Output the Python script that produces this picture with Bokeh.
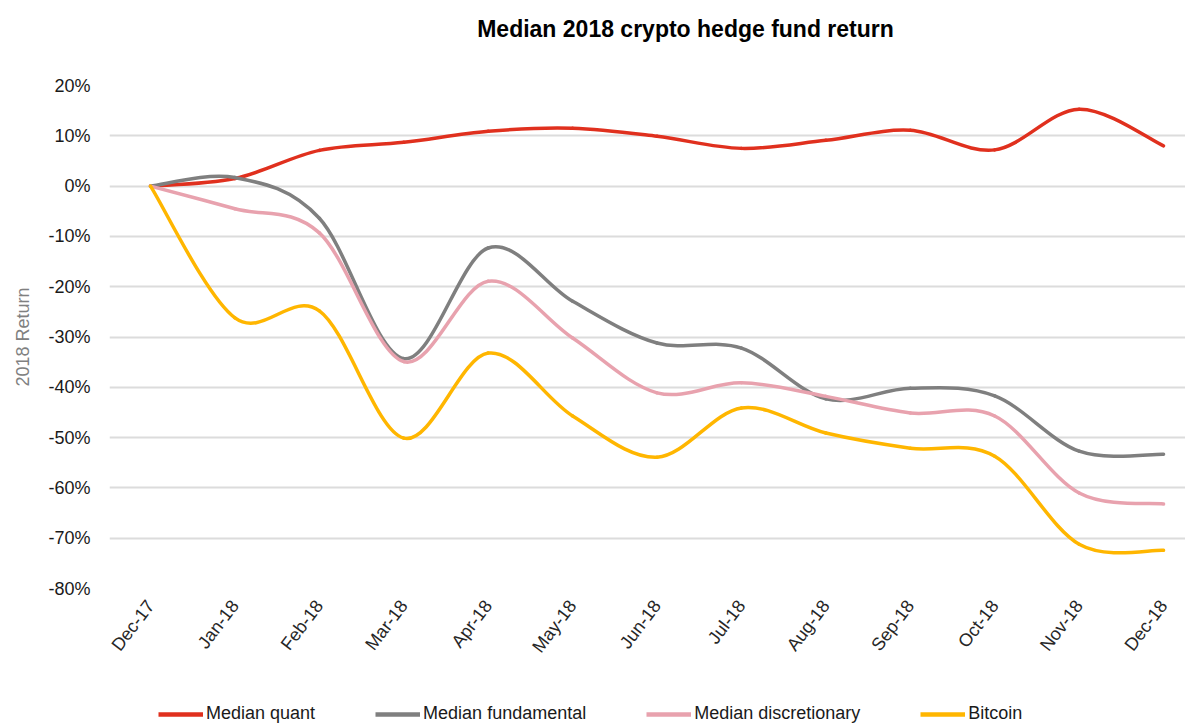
from bokeh.plotting import figure
from bokeh.layouts import column
from bokeh.models import (Range1d, FixedTicker, Legend, LegendItem, Label,
                          ColumnDataSource)
from bokeh.embed import file_html
from bokeh.resources import INLINE

# ---------------- data ----------------
months = ["Dec-17", "Jan-18", "Feb-18", "Mar-18", "Apr-18", "May-18", "Jun-18",
          "Jul-18", "Aug-18", "Sep-18", "Oct-18", "Nov-18", "Dec-18"]
median_quant = [0, 1.5, 7.1, 8.7, 10.9, 11.5, 9.9, 7.5, 9.1, 11.1, 7.2, 15.3, 8.0]
median_fundamental = [0, 1.7, -6.4, -34.3, -12.3, -22.9, -31.2, -32.2, -42.3, -40.2, -41.7, -52.7, -53.3]
median_discretionary = [0, -4.5, -9.3, -34.9, -18.9, -30.2, -41.1, -39.1, -41.8, -45.1, -45.7, -61.0, -63.2]
bitcoin = [0, -26.2, -24.8, -50.1, -33.2, -45.7, -53.9, -44.1, -49.1, -52.1, -53.7, -71.2, -72.4]
y_ticks = [-80, -70, -60, -50, -40, -30, -20, -10, 0, 10, 20]

series = [
    ("Median quant", median_quant, "#E0301E"),
    ("Median fundamental", median_fundamental, "#7F7F7F"),
    ("Median discretionary", median_discretionary, "#E8A2AE"),
    ("Bitcoin", bitcoin, "#FFB600"),
]

FONT = "Liberation Sans"
W = 1185

# ---------------- title strip ----------------
tf = figure(width=W, height=57, output_backend="svg", toolbar_location=None,
            x_axis_type=None, y_axis_type=None, min_border=0,
            x_range=Range1d(0, 1), y_range=Range1d(0, 1))
tf.outline_line_color = None
tf.border_fill_color = "white"
tf.add_layout(Label(x=576, y=29, x_units="screen", y_units="screen",
                    text="Median 2018 crypto hedge fund return",
                    text_font=FONT, text_font_size="23px",
                    text_font_style="bold", text_color="#000000",
                    text_align="center", text_baseline="middle"))

# ---------------- main figure ----------------
p = figure(width=W, height=647, output_backend="svg", toolbar_location=None,
           x_range=Range1d(-0.486, 12.26), y_range=Range1d(-80, 20),
           min_border_left=109, min_border_right=0, min_border_top=28,
           min_border_bottom=116)
p.outline_line_color = None
p.background_fill_color = "white"
p.border_fill_color = "white"

p.xaxis.ticker = FixedTicker(ticks=list(range(len(months))))
p.xaxis.major_label_overrides = {i: m for i, m in enumerate(months)}
p.xaxis.major_label_orientation = 0.92
p.xaxis.major_label_text_font = FONT
p.xaxis.major_label_text_font_size = "18px"
p.xaxis.major_label_text_color = "#262626"
p.xaxis.major_label_standoff = 8
p.xaxis.axis_line_color = None
p.xaxis.major_tick_line_color = None
p.xaxis.minor_tick_line_color = None

p.yaxis.ticker = FixedTicker(ticks=y_ticks)
p.yaxis.major_label_overrides = {t: f"{t}%" for t in y_ticks}
p.yaxis.major_label_text_font = FONT
p.yaxis.major_label_text_font_size = "18px"
p.yaxis.major_label_text_color = "#1a1a1a"
p.yaxis.major_label_standoff = 13
p.yaxis.axis_line_color = None
p.yaxis.major_tick_line_color = None
p.yaxis.minor_tick_line_color = None
p.yaxis.axis_label = "2018 Return"
p.yaxis.axis_label_text_font = FONT
p.yaxis.axis_label_text_font_size = "18px"
p.yaxis.axis_label_text_font_style = "normal"
p.yaxis.axis_label_text_color = "#808080"
p.yaxis.axis_label_standoff = 12

p.xgrid.grid_line_color = None
p.ygrid.grid_line_color = "#dcdcdc"
p.ygrid.grid_line_width = 2

# ---------------- legend strip ----------------
lf = figure(width=W, height=20, output_backend="svg", toolbar_location=None,
            x_axis_type=None, y_axis_type=None, min_border=0,
            x_range=Range1d(0, 1), y_range=Range1d(1000, 1001))
lf.outline_line_color = None
lf.border_fill_color = "white"

# ---------------- smooth curves (Catmull-Rom -> cubic Bezier) ----------------
items = []
for name, vals, color in series:
    n = len(vals)
    xs = list(range(n))
    x0, y0, x1, y1, cx0, cy0, cx1, cy1 = [], [], [], [], [], [], [], []
    for i in range(n - 1):
        im1 = max(i - 1, 0)
        ip2 = min(i + 2, n - 1)
        x0.append(xs[i]); y0.append(vals[i])
        x1.append(xs[i + 1]); y1.append(vals[i + 1])
        cx0.append(xs[i] + (xs[i + 1] - xs[im1]) / 6.0)
        cy0.append(vals[i] + (vals[i + 1] - vals[im1]) / 6.0)
        cx1.append(xs[i + 1] - (xs[ip2] - xs[i]) / 6.0)
        cy1.append(vals[i + 1] - (vals[ip2] - vals[i]) / 6.0)
    src = ColumnDataSource(dict(x0=x0, y0=y0, x1=x1, y1=y1,
                                cx0=cx0, cy0=cy0, cx1=cx1, cy1=cy1))
    p.bezier(x0="x0", y0="y0", x1="x1", y1="y1", cx0="cx0", cy0="cy0",
             cx1="cx1", cy1="cy1", source=src, line_color=color,
             line_width=3.5, line_cap="round")
    # legend proxy: same series in the legend strip, outside its visible range
    r = lf.line(x=xs, y=vals, line_color=color, line_width=4.5)
    items.append(LegendItem(label=name, renderers=[r]))

legend = Legend(items=items, orientation="horizontal", location=(49, 0),
                padding=0, margin=0, border_line_color=None,
                background_fill_alpha=0, label_text_font=FONT,
                label_text_font_size="18px", label_text_color="#1a1a1a",
                glyph_width=45, glyph_height=20, label_height=20,
                label_standoff=3, spacing=60)
lf.add_layout(legend, "center")

layout = column(tf, p, lf, spacing=0)
open("out.html", "w").write(file_html(layout, INLINE))
